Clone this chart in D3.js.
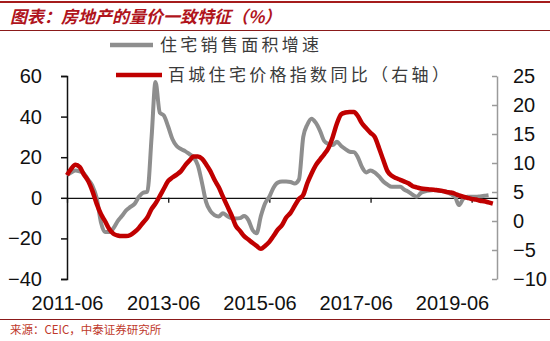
<!DOCTYPE html>
<html>
<head>
<meta charset="utf-8">
<script src="https://cdn.jsdelivr.net/npm/d3@7"></script>
<style>
  body { margin: 0; background: #fff; }
  svg { display: block; }
  .num { font-family: "Liberation Sans", Arial, sans-serif; font-size: 20px; fill: #111; }
  .cjk { font-family: "Noto Sans CJK SC", sans-serif; }
</style>
</head>
<body>
<svg id="chart"></svg>
<script>
const width = 550;
const height = 341;

// Monthly data, starting 2011-06
const startMonth = "2011-06";
// 住宅销售面积增速 (left axis, %)
const salesArea = [
  11.2, 12.5, 13.5, 13, 12, 9, 6, 0, -12, -16.9,
  -16.9, -15, -11.5, -9, -6.2, -4.5, -3, 0.5, 2.5, 3,
  30, 57, 42, 40.5, 35, 29, 25.5, 24, 23, 21.5,
  20, 16, 7, -2, -6.5, -8.5, -9.2, -7.6, -9, -10,
  -10.2, -10, -9, -11, -16, -17.5, -9, -2.8, 0.5, 5,
  7.5, 8, 8, 7.8, 7, 9, 30, 36, 39, 37,
  33, 28, 26.5, 26, 27.6, 25.5, 24, 22.7, 22.5, 20,
  15, 12.5, 13.5, 12.5, 10.5, 8, 6.5, 5.4, 5.4, 5.4,
  4, 3, 1.5, 0.5, 2.5, 3.2, 3.6, 3.8, 3.6, 3.2,
  3, 1.8, 0.5, -3.6, -0.5, 0.5, 0.5, 0.5, 0.7, 1,
  1.3
];
// 百城住宅价格指数同比 (right axis, %)
const priceIndex = [
  7.9, 9, 9.7, 9.3, 8, 6.9, 5.2, 3, 1.2, 0,
  -1.4, -2.2, -2.5, -2.6, -2.6, -2.4, -1.9, -1.2, -0.3, 0.6,
  2.1, 3, 4.3, 5.6, 6.9, 7.5, 8, 8.6, 9.6, 10.4,
  11.1, 11.1, 10.7, 9.8, 8.6, 7.1, 5.8, 4.2, 2.6, 1,
  -0.8, -1.7, -2.6, -3.2, -3.8, -4.3, -4.8, -4.3, -3.6, -2.6,
  -1.5, -0.7, 0.6, 1.4, 2.6, 3.8, 4.5, 6.5, 8.2, 9.6,
  10.6, 11.5, 12.6, 14.5, 16.8, 18.4, 18.7, 18.8, 18.8, 18.1,
  16.8, 16, 15.2, 14.5, 12.6, 10.5, 8.6, 7.8, 7.4, 7.1,
  6.8, 6.5, 6, 5.8, 5.6, 5.5, 5.45, 5.4, 5.3, 5.2,
  5, 4.9, 4.7, 4.4, 4.2, 4, 3.8, 3.7, 3.5, 3.4,
  3.2, 3.0
];
const xTickLabels = ["2011-06", "2013-06", "2015-06", "2017-06", "2019-06"];
const leftTicks = [-40, -20, 0, 20, 40, 60];
const rightTicks = [-10, -5, 0, 5, 10, 15, 20, 25];
const seriesNames = ["住宅销售面积增速", "百城住宅价格指数同比（右轴）"];

const parseMonth = d3.timeParse("%Y-%m");
const t0 = parseMonth(startMonth);
const toDate = i => d3.timeMonth.offset(t0, i);

const svg = d3.select("#chart")
  .attr("width", width)
  .attr("height", height);

// Header / footer rules
svg.append("line").attr("x1", 0).attr("x2", width).attr("y1", 2).attr("y2", 2)
  .attr("stroke", "#a51c1c").attr("stroke-width", 2);
svg.append("line").attr("x1", 0).attr("x2", width).attr("y1", 30.5).attr("y2", 30.5)
  .attr("stroke", "#8b1a1a").attr("stroke-width", 1);
svg.append("line").attr("x1", 0).attr("x2", width).attr("y1", 319.5).attr("y2", 319.5)
  .attr("stroke", "#8b1a1a").attr("stroke-width", 1);

svg.append("text")
  .attr("class", "cjk")
  .attr("x", 10).attr("y", 23)
  .attr("fill", "#b0141c")
  .style("font-size", "17px")
  .style("font-style", "italic")
  .style("font-weight", "bold")
  .text("图表：房地产的量价一致特征（%）");

svg.append("text")
  .attr("class", "cjk")
  .attr("x", 10).attr("y", 334)
  .attr("fill", "#c0392b")
  .style("font-size", "11.5px")
  .text("来源：CEIC，中泰证券研究所");

// Scales
const x = d3.scaleTime()
  .domain([t0, d3.timeMonth.offset(t0, 102)])
  .range([67, 497]);

const yL = d3.scaleLinear().domain([-40, 60]).range([279, 76]);
const yR = d3.scaleLinear().domain([-10, 25]).range([279, 76]);

// Left axis
const leftG = svg.append("g")
  .attr("transform", "translate(67,0)")
  .call(d3.axisLeft(yL).tickValues(leftTicks).tickSize(6).tickPadding(19));
leftG.selectAll("text").attr("class", "num").attr("fill", "#111");
leftG.selectAll("line, path").attr("stroke", "#111").attr("stroke-width", 1.5);

// Right axis
const rightG = svg.append("g")
  .attr("transform", "translate(497,0)")
  .call(d3.axisRight(yR).tickValues(rightTicks).tickSizeInner(-5).tickSizeOuter(0).tickPadding(16));
rightG.selectAll("text").attr("class", "num").attr("fill", "#111");
rightG.selectAll("line, path").attr("stroke", "#9a9a9a").attr("stroke-width", 1.5);

// Zero line with date ticks
const zeroG = svg.append("g")
  .attr("transform", `translate(0,${yL(0)})`)
  .call(d3.axisBottom(x)
    .tickValues(xTickLabels.map(parseMonth))
    .tickSize(5)
    .tickSizeOuter(0)
    .tickFormat(""));
zeroG.selectAll("line, path").attr("stroke", "#111").attr("stroke-width", 1.3);

// Category labels (spread as in the source chart)
const labelScale = d3.scalePoint().domain(xTickLabels).range([67, 452]);
const labelG = svg.append("g")
  .attr("transform", "translate(0,296)")
  .call(d3.axisBottom(labelScale).tickSize(0).tickPadding(0));
labelG.select(".domain").remove();
labelG.selectAll("text").attr("class", "num").attr("fill", "#111").attr("dy", "0.7em");

// Lines
const lineL = d3.line()
  .x((d, i) => x(toDate(i)))
  .y(d => yL(d))
  .curve(d3.curveMonotoneX);
const lineR = d3.line()
  .x((d, i) => x(toDate(i)))
  .y(d => yR(d))
  .curve(d3.curveMonotoneX);

svg.append("path")
  .datum(salesArea)
  .attr("fill", "none")
  .attr("stroke", "#8e8e8e")
  .attr("stroke-width", 4)
  .attr("stroke-linejoin", "round")
  .attr("d", lineL);

svg.append("path")
  .datum(priceIndex)
  .attr("fill", "none")
  .attr("stroke", "#c00000")
  .attr("stroke-width", 4.5)
  .attr("stroke-linejoin", "round")
  .attr("d", lineR);

// Legend
const legend = [
  { name: seriesNames[0], color: "#8e8e8e", x1: 110, x2: 153, y: 45, tx: 160 },
  { name: seriesNames[1], color: "#c00000", x1: 116, x2: 162, y: 75, tx: 168 }
];
legend.forEach(l => {
  svg.append("line")
    .attr("x1", l.x1).attr("x2", l.x2)
    .attr("y1", l.y).attr("y2", l.y)
    .attr("stroke", l.color).attr("stroke-width", 4.5);
  svg.append("text")
    .attr("class", "cjk")
    .attr("x", l.tx).attr("y", l.y + 6)
    .attr("fill", "#3a3a3a")
    .style("font-size", "17px")
    .style("letter-spacing", "3.3px")
    .text(l.name);
});
</script>
</body>
</html>
